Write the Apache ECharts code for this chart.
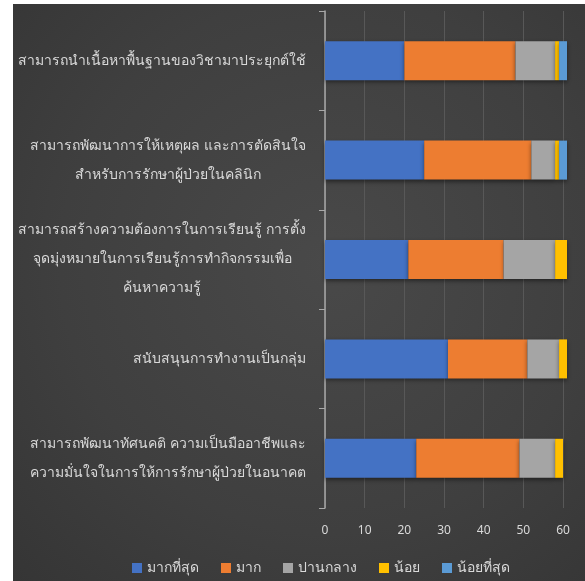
<!DOCTYPE html>
<html>
<head>
<meta charset="utf-8">
<script src="https://cdn.jsdelivr.net/npm/echarts@6/dist/echarts.min.js"></script>
<style>
html,body{margin:0;padding:0;background:#ffffff;width:585px;height:581px;overflow:hidden;}
#chart{position:absolute;left:13px;top:4px;width:572px;height:577px;
background:radial-gradient(ellipse at 55% 45%, #494949 0%, #3f3f3f 60%, #353535 100%);}
</style>
</head>
<body>
<div id="chart"></div>
<script>
const categories = [
  "สามารถนำเนื้อหาพื้นฐานของวิชามาประยุกต์ใช้",
  "สามารถพัฒนาการให้เหตุผล และการตัดสินใจ\nสำหรับการรักษาผู้ป่วยในคลินิก",
  "สามารถสร้างความต้องการในการเรียนรู้ การตั้ง\nจุดมุ่งหมายในการเรียนรู้การทำกิจกรรมเพื่อ\nค้นหาความรู้",
  "สนับสนุนการทำงานเป็นกลุ่ม",
  "สามารถพัฒนาทัศนคติ ความเป็นมืออาชีพและ\nความมั่นใจในการให้การรักษาผู้ป่วยในอนาคต"
];
const seriesNames = ["มากที่สุด", "มาก", "ปานกลาง", "น้อย", "น้อยที่สุด"];
const mostValues     = [20, 25, 21, 31, 23];
const muchValues     = [28, 27, 24, 20, 26];
const moderateValues = [10, 6, 13, 8, 9];
const littleValues   = [1, 1, 3, 2, 2];
const leastValues    = [2, 2, 0, 0, 0];
const xTicks = [0, 10, 20, 30, 40, 50, 60];

const colors = ["#4472C4", "#ED7D31", "#A5A5A5", "#FFC000", "#5B9BD5"];
const allValues = [mostValues, muchValues, moderateValues, littleValues, leastValues];

const chart = echarts.init(document.getElementById('chart'), null, {renderer: 'canvas'});
const textColor = '#d9d9d9';
const option = {
  backgroundColor: 'transparent',
  color: colors,
  animation: false,
  textStyle: {fontFamily: 'Noto Sans, sans-serif'},
  grid: {left: 312, top: 7, right: 18, bottom: 73, containLabel: false},
  legend: {
    left: 114, top: 552,
    itemWidth: 10, itemHeight: 10, itemGap: 22,
    icon: 'rect',
    textStyle: {color: textColor, fontSize: 14},
    data: seriesNames
  },
  xAxis: {
    type: 'value', min: xTicks[0], max: 61, interval: 10,
    axisLine: {show: false}, axisTick: {show: false},
    axisLabel: {color: textColor, fontSize: 12, margin: 17, showMaxLabel: false},
    splitLine: {show: true, showMaxLine: false, lineStyle: {color: '#585858', width: 1}}
  },
  yAxis: {
    type: 'category', inverse: true, data: categories,
    axisLine: {show: true, lineStyle: {color: '#a8a8a8', width: 1.5}},
    axisTick: {show: true, length: 6, lineStyle: {color: '#a8a8a8'}},
    axisLabel: {
      color: textColor, fontSize: 14, margin: 19, lineHeight: 29, align: 'right',
      formatter: function (v) { return v.split('\n').map(l => '{c|' + l + '}').join('\n'); },
      rich: {c: {align: 'center', color: textColor, fontSize: 14, lineHeight: 29}}
    }
  },
  series: seriesNames.map((n, i) => ({
    name: n, type: 'bar', stack: 'total', data: allValues[i],
    barWidth: 39,
    itemStyle: {shadowColor: 'rgba(0,0,0,0.45)', shadowBlur: 4, shadowOffsetY: 2}
  }))
};
chart.setOption(option);
</script>
</body>
</html>
